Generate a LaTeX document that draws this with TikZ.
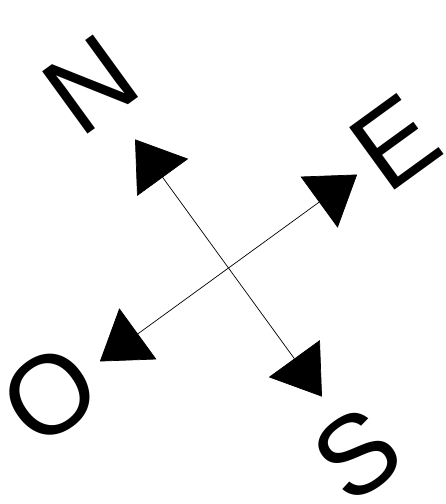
\documentclass[tikz,border=0pt]{standalone}
\usepackage{fontspec}
\setmainfont{Liberation Sans}
\usepackage{tikz}
\usetikzlibrary{arrows.meta,calc}

\tikzset{
  pointer/.style={draw=black, line width=0.7pt, {Triangle[length=47pt,width=63pt]}-{Triangle[length=47pt,width=63pt]}},
  windletter/.style={inner sep=0pt, rotate=36, font=\fontsize{112}{112}\selectfont}
}

\begin{document}
\begin{tikzpicture}[x=1pt,y=1pt]
                \useasboundingbox (0,0) rectangle (446,504);
                % centre of the cross
                \coordinate (c) at (228.5,236);
                \begin{scope}[shift={(c)},rotate=36]
                  % the four tips
                  \coordinate (tipN) at (0,159);
                  \coordinate (tipS) at (0,-159);
                  \coordinate (tipE) at (159,0);
                  \coordinate (tipO) at (-159,0);
                  % the letters
                  \node[windletter] (lN) at (-4,229.5) {N};
                  \node[windletter] (lE) at (209,3.6) {E};
                  \node[windletter] (lS) at (-5.5,-226) {S};
                  \node[windletter] (lO) at (-219,2.3) {O};
                \end{scope}
                % arrows
                \draw[pointer] (tipS) -- (tipN);
                \draw[pointer] (tipO) -- (tipE);
              \end{tikzpicture}
\end{document}
